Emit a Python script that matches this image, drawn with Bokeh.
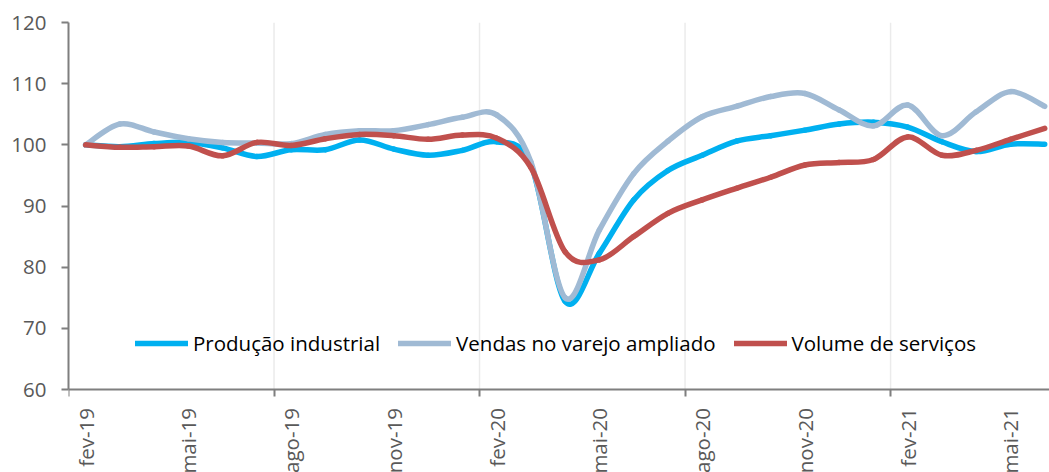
import math
from bokeh.plotting import figure
from bokeh.models import (Range1d, FixedTicker, Legend, LegendItem,
                          ColumnDataSource)
from bokeh.core.properties import value
from bokeh.embed import file_html
from bokeh.resources import INLINE

# ---- data -------------------------------------------------------------
months = ["fev-19", "mar-19", "abr-19", "mai-19", "jun-19", "jul-19", "ago-19",
          "set-19", "out-19", "nov-19", "dez-19", "jan-20", "fev-20", "mar-20",
          "abr-20", "mai-20", "jun-20", "jul-20", "ago-20", "set-20", "out-20",
          "nov-20", "dez-20", "jan-21", "fev-21", "mar-21", "abr-21", "mai-21",
          "jun-21"]

producao_industrial = [100.0, 99.7, 100.2, 100.4, 99.5, 98.1, 99.2, 99.2, 100.8,
                       99.3, 98.3, 99.1, 100.5, 96.8, 74.4, 82.3, 91.0, 95.8,
                       98.3, 100.6, 101.5, 102.4, 103.4, 103.7, 102.9, 100.5,
                       98.9, 100.1, 100.1]

vendas_varejo_ampliado = [100.0, 103.4, 102.1, 101.0, 100.4, 100.3, 100.2, 101.7,
                          102.3, 102.3, 103.3, 104.5, 104.9, 97.2, 75.0, 86.1,
                          95.3, 100.6, 104.6, 106.3, 107.9, 108.4, 105.7, 103.1,
                          106.5, 101.5, 105.4, 108.7, 106.3]

volume_servicos = [100.0, 99.6, 99.7, 99.8, 98.2, 100.4, 99.9, 101.0, 101.7,
                   101.5, 100.9, 101.6, 101.1, 96.3, 82.5, 81.2, 85.0, 88.8,
                   91.0, 92.9, 94.7, 96.7, 97.1, 97.6, 101.3, 98.3, 99.1,
                   100.9, 102.7]

series_names = ["Produção industrial", "Vendas no varejo ampliado",
                "Volume de serviços"]
series_colors = ["#00B0F0", "#A0BAD4", "#C0504D"]

y_ticks = [60, 70, 80, 90, 100, 110, 120]
label_every = 3
tick_every = 6

FONT = "Open Sans"
FS = "20.5px"
GRAY_TXT = "#595959"
AXIS_COL = "#7F7F7F"

# ---- geometry ---------------------------------------------------------
W, H = 1049, 472
TOP, LEFT = 22, 68
PX_PER_UNIT = 6.117            # vertical pixels per index point
Y_MIN, Y_MAX = y_ticks[0], y_ticks[-1]
y_start = Y_MAX - (H - TOP) / PX_PER_UNIT   # room below the axis for labels

p = figure(width=W, height=H, output_backend="svg", toolbar_location=None,
           x_range=Range1d(-0.5, 28.14), y_range=Range1d(y_start, Y_MAX),
           min_border_left=LEFT, min_border_right=0, min_border_top=TOP,
           min_border_bottom=0)
p.outline_line_color = None
p.background_fill_color = "white"
p.border_fill_color = "white"

n = len(months)
xs = list(range(n))
label_pos = list(range(0, n, label_every))
bounds = [i - 0.5 for i in range(0, n + 1, tick_every)]

# vertical gridlines (between categories, every 6 months)
p.segment(x0=bounds[1:], y0=[Y_MIN] * len(bounds[1:]), x1=bounds[1:],
          y1=[Y_MAX] * len(bounds[1:]), line_color="#EBEBEB", line_width=1.5,
          level="underlay")


def smooth_segments(xv, yv):
    """Bezier segments through the data points (Excel-style smoothing)."""
    m = len(xv)
    d = dict(x0=[], y0=[], x1=[], y1=[], cx0=[], cy0=[], cx1=[], cy1=[])
    for i in range(m - 1):
        a = i - 1 if i > 0 else i
        b = i + 2 if i + 2 < m else i + 1
        d["x0"].append(xv[i]); d["y0"].append(yv[i])
        d["x1"].append(xv[i + 1]); d["y1"].append(yv[i + 1])
        d["cx0"].append(xv[i] + (xv[i + 1] - xv[a]) / 6.0)
        d["cy0"].append(yv[i] + (yv[i + 1] - yv[a]) / 6.0)
        d["cx1"].append(xv[i + 1] - (xv[b] - xv[i]) / 6.0)
        d["cy1"].append(yv[i + 1] - (yv[b] - yv[i]) / 6.0)
    return ColumnDataSource(d)


items = []
for vals, name, col in zip([producao_industrial, vendas_varejo_ampliado,
                            volume_servicos], series_names, series_colors):
    src = smooth_segments(xs, vals)
    p.bezier(x0="x0", y0="y0", x1="x1", y1="y1", cx0="cx0", cy0="cy0",
             cx1="cx1", cy1="cy1", source=src, line_color=col, line_width=5.5,
             line_cap="round")
    # legend sample (kept outside the visible range)
    dummy = p.line(x=[-9, -8], y=[100, 100], line_color=col, line_width=5.5,
                   line_cap="round")
    items.append(LegendItem(label=name, renderers=[dummy]))

legend = Legend(items=items, orientation="horizontal", location=(67, 115),
                border_line_color=None, background_fill_alpha=0, padding=0,
                margin=0, spacing=18, glyph_width=53, glyph_height=20,
                label_height=20, label_standoff=5, label_text_font=FONT,
                label_text_font_size=FS, label_text_color="black")
p.add_layout(legend, "center")

# ---- axes -------------------------------------------------------------
p.xaxis.fixed_location = Y_MIN
p.xaxis.ticker = FixedTicker(ticks=label_pos, minor_ticks=bounds)
p.xaxis.major_label_overrides = {i: "" for i in label_pos}
p.xaxis.major_label_standoff = 0
p.xaxis.major_label_text_font_size = "1px"
p.xaxis.major_tick_out = 0
p.xaxis.major_tick_in = 0
p.xaxis.minor_tick_out = 7
p.xaxis.minor_tick_in = 0
p.xaxis.axis_line_color = AXIS_COL
p.xaxis.axis_line_width = 2
p.xaxis.minor_tick_line_color = AXIS_COL
p.xaxis.minor_tick_line_width = 2

# month labels under the axis, reading upwards
label_y = Y_MIN - 18.5 / PX_PER_UNIT
p.text(x=label_pos, y=[label_y] * len(label_pos),
       text=[months[i] for i in label_pos], angle=math.pi / 2,
       text_align="right", text_baseline="middle", text_font=value(FONT),
       text_font_size=value(FS), text_color=GRAY_TXT)

p.yaxis.bounds = (Y_MIN, Y_MAX)
p.yaxis.ticker = FixedTicker(ticks=y_ticks)
p.yaxis.major_tick_out = 7
p.yaxis.major_tick_in = 0
p.yaxis.minor_tick_out = 0
p.yaxis.minor_tick_in = 0
p.yaxis.axis_line_color = AXIS_COL
p.yaxis.axis_line_width = 2
p.yaxis.major_tick_line_color = AXIS_COL
p.yaxis.major_tick_line_width = 2
p.yaxis.major_label_text_font = FONT
p.yaxis.major_label_text_font_size = FS
p.yaxis.major_label_text_color = GRAY_TXT
p.yaxis.major_label_standoff = 15

p.xgrid.grid_line_color = None
p.ygrid.grid_line_color = None

open("out.html", "w").write(file_html(p, INLINE))
